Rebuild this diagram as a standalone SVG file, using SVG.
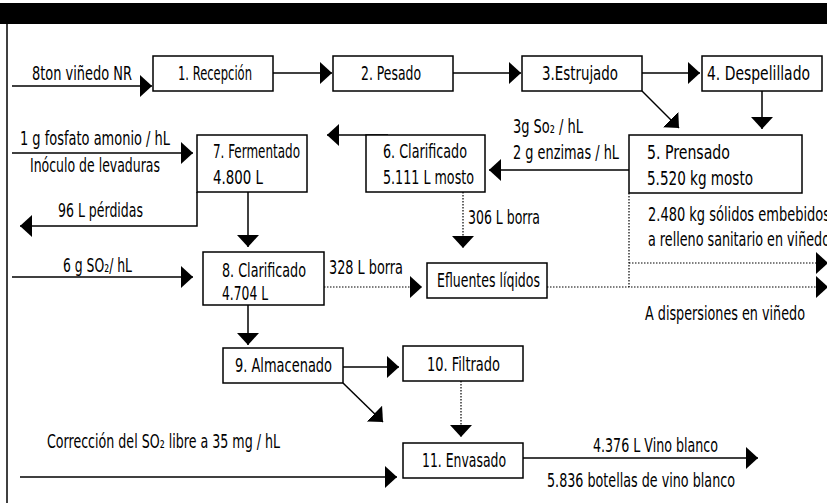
<svg xmlns="http://www.w3.org/2000/svg" width="827" height="503" viewBox="0 0 827 503">
<style>
text{font-family:"Liberation Sans Narrow","DejaVu Sans Condensed","Liberation Sans",sans-serif;font-size:19px;fill:#000}
.box{fill:#fff;stroke:#000;stroke-width:1.5}
.ln{fill:none;stroke:#000;stroke-width:1.5}
.dot{fill:none;stroke:#000;stroke-width:1.2;stroke-dasharray:1.5 1.5}
</style>
<defs>
<marker id="ah" markerUnits="userSpaceOnUse" markerWidth="12" markerHeight="22" refX="12" refY="11" orient="auto" viewBox="0 0 12 22">
<path d="M0,0 L12,11 L0,22 z" fill="#000"/>
</marker>
</defs>
<rect x="0" y="3" width="827" height="21" fill="#000"/>
<line x1="7" y1="24" x2="7" y2="503" stroke="#000" stroke-width="1.5"/>

<g id="connectors">
<line class="ln" x1="12" y1="86" x2="152" y2="86" marker-end="url(#ah)"/>
<line class="ln" x1="273" y1="73" x2="332" y2="73" marker-end="url(#ah)"/>
<line class="ln" x1="453" y1="73" x2="521" y2="73" marker-end="url(#ah)"/>
<line class="ln" x1="642" y1="73" x2="700" y2="73" marker-end="url(#ah)"/>
<line class="ln" x1="642" y1="91" x2="679" y2="128" marker-end="url(#ah)"/>
<line class="ln" x1="762" y1="91" x2="762" y2="129" marker-end="url(#ah)"/>
<line class="ln" x1="629" y1="170" x2="489" y2="170" marker-end="url(#ah)"/>
<line class="ln" x1="388" y1="135" x2="327" y2="135" marker-end="url(#ah)"/>
<line class="ln" x1="12" y1="153" x2="193" y2="153" marker-end="url(#ah)"/>
<polyline class="ln" points="197,192 197,226 20,226" marker-end="url(#ah)"/>
<line class="ln" x1="248" y1="192" x2="248" y2="247" marker-end="url(#ah)"/>
<line class="ln" x1="12" y1="277" x2="193" y2="277" marker-end="url(#ah)"/>
<line class="dot" x1="324" y1="287" x2="422" y2="287" marker-end="url(#ah)"/>
<line class="dot" x1="547" y1="287" x2="828" y2="287" marker-end="url(#ah)"/>
<line class="dot" x1="629" y1="193" x2="629" y2="287"/>
<line class="dot" x1="629" y1="263" x2="828" y2="263" marker-end="url(#ah)"/>
<line class="dot" x1="463" y1="192" x2="463" y2="248" marker-end="url(#ah)"/>
<line class="ln" x1="248" y1="305" x2="248" y2="345" marker-end="url(#ah)"/>
<line class="ln" x1="343" y1="367" x2="399" y2="367" marker-end="url(#ah)"/>
<line class="ln" x1="343" y1="383" x2="383" y2="422" marker-end="url(#ah)"/>
<line class="dot" x1="461" y1="381" x2="461" y2="437" marker-end="url(#ah)"/>
<line class="ln" x1="20" y1="477" x2="397" y2="477" marker-end="url(#ah)"/>
<line class="ln" x1="523" y1="458" x2="758" y2="458" marker-end="url(#ah)"/>
</g>

<g id="labels">
<text x="32" y="80" textLength="100" lengthAdjust="spacingAndGlyphs">8ton viñedo NR</text>
<text x="513" y="133" textLength="70" lengthAdjust="spacingAndGlyphs">3g So₂ / hL</text>
<text x="513" y="159" textLength="106" lengthAdjust="spacingAndGlyphs">2 g enzimas / hL</text>
<text x="20" y="145" textLength="150" lengthAdjust="spacingAndGlyphs">1 g fosfato amonio / hL</text>
<text x="30" y="172" textLength="130" lengthAdjust="spacingAndGlyphs">Inóculo de levaduras</text>
<text x="58" y="217" textLength="85" lengthAdjust="spacingAndGlyphs">96 L pérdidas</text>
<text x="468" y="224" textLength="72" lengthAdjust="spacingAndGlyphs">306 L borra</text>
<text x="648" y="221" textLength="182" lengthAdjust="spacingAndGlyphs">2.480 kg sólidos embebidos</text>
<text x="648" y="246" textLength="182" lengthAdjust="spacingAndGlyphs">a relleno sanitario en viñedo</text>
<text x="63" y="272" textLength="69" lengthAdjust="spacingAndGlyphs">6 g SO₂/ hL</text>
<text x="329" y="274" textLength="74" lengthAdjust="spacingAndGlyphs">328 L borra</text>
<text x="645" y="320" textLength="160" lengthAdjust="spacingAndGlyphs">A dispersiones en viñedo</text>
<text x="47" y="448" textLength="233" lengthAdjust="spacingAndGlyphs">Corrección del SO₂ libre a 35 mg / hL</text>
<text x="593" y="452" textLength="125" lengthAdjust="spacingAndGlyphs">4.376 L Vino blanco</text>
<text x="547" y="487" textLength="188" lengthAdjust="spacingAndGlyphs">5.836 botellas de vino blanco</text>
</g>

<g id="n1"><rect class="box" x="153" y="56" width="120" height="35"/><text x="178" y="80" textLength="74" lengthAdjust="spacingAndGlyphs">1. Recepción</text></g>
<g id="n2"><rect class="box" x="333" y="56" width="120" height="35"/><text x="361" y="80" textLength="60" lengthAdjust="spacingAndGlyphs">2. Pesado</text></g>
<g id="n3"><rect class="box" x="522" y="56" width="120" height="35"/><text x="542" y="80" textLength="76" lengthAdjust="spacingAndGlyphs">3.Estrujado</text></g>
<g id="n4"><rect class="box" x="702" y="56" width="120" height="35"/><text x="707" y="80" textLength="103" lengthAdjust="spacingAndGlyphs">4. Despelillado</text></g>
<g id="n5"><rect class="box" x="629" y="135" width="173" height="58"/><text x="647" y="159" textLength="83" lengthAdjust="spacingAndGlyphs">5. Prensado</text><text x="647" y="185" textLength="106" lengthAdjust="spacingAndGlyphs">5.520 kg mosto</text></g>
<g id="n6"><rect class="box" x="366" y="135" width="119" height="57"/><text x="383" y="158" textLength="84" lengthAdjust="spacingAndGlyphs">6. Clarificado</text><text x="383" y="184" textLength="91" lengthAdjust="spacingAndGlyphs">5.111 L mosto</text></g>
<g id="n7"><rect class="box" x="197" y="135" width="110" height="57"/><text x="213" y="158" textLength="87" lengthAdjust="spacingAndGlyphs">7. Fermentado</text><text x="213" y="184" textLength="50" lengthAdjust="spacingAndGlyphs">4.800 L</text></g>
<g id="n8"><rect class="box" x="203" y="252" width="121" height="53"/><text x="222" y="277" textLength="84" lengthAdjust="spacingAndGlyphs">8. Clarificado</text><text x="222" y="300" textLength="46" lengthAdjust="spacingAndGlyphs">4.704 L</text></g>
<g id="nE"><rect class="box" x="427" y="263" width="120" height="35"/><text x="437" y="287" textLength="103" lengthAdjust="spacingAndGlyphs">Efluentes líqidos</text></g>
<g id="n9"><rect class="box" x="223" y="348" width="120" height="35"/><text x="235" y="372" textLength="97" lengthAdjust="spacingAndGlyphs">9. Almacenado</text></g>
<g id="n10"><rect class="box" x="403" y="346" width="120" height="35"/><text x="427" y="371" textLength="73" lengthAdjust="spacingAndGlyphs">10. Filtrado</text></g>
<g id="n11"><rect class="box" x="403" y="443" width="120" height="35"/><text x="422" y="467" textLength="84" lengthAdjust="spacingAndGlyphs">11. Envasado</text></g>
</svg>
